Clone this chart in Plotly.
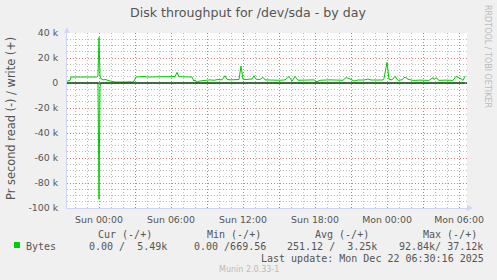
import pandas as pd
import plotly.graph_objects as go

# ---------------- data ----------------
start = pd.Timestamp("2025-12-20 21:20")
step_minutes = 5
n_steps = 400

# write (+) series: sample index (5-min steps from start) and bytes/s
write_idx = [0, 3, 4, 11, 13, 15, 21, 23, 25, 30, 31, 32, 33, 34, 36, 39, 41, 45, 48, 53,
             57, 59, 63, 65, 67, 69, 73, 77, 79, 88, 98, 108, 110, 112, 125, 127, 128, 130,
             132, 135, 139, 143, 147, 151, 155, 158, 160, 163, 167, 170, 172, 174, 176, 179,
             183, 185, 187, 189, 193, 196, 198, 203, 208, 213, 218, 222, 225, 228, 231, 238,
             243, 247, 250, 253, 263, 269, 276, 279, 282, 287, 291, 297, 301, 304, 311, 316,
             317, 320, 322, 325, 328, 331, 335, 338, 341, 346, 353, 362, 366, 367, 369, 372,
             378, 386, 389, 392, 394, 396, 398]
write_val = [1500, 2000, 4800, 4800, 5200, 4800, 4800, 5300, 4800, 4800, 5500, 36500, 5000,
             3500, 2500, 2800, 2000, 1500, 800, 800, 1200, 800, 1000, 670, 1500, 4800, 5000,
             5300, 4800, 5000, 4800, 5200, 8500, 5000, 4800, 1500, 2500, 700, 1500, 2000, 2200,
             2500, 2200, 2800, 2500, 5800, 3000, 2500, 2800, 3200, 2800, 13600, 3000, 2800,
             3000, 3200, 5800, 3000, 2800, 4600, 2500, 2200, 2500, 2200, 2500, 5200, 1500,
             5200, 2200, 2500, 2200, 2500, 1000, 2200, 2500, 2200, 2200, 4300, 3600, 1600,
             2400, 2400, 3200, 2400, 2600, 2400, 3700, 16500, 3000, 2500, 5300, 2100, 2600,
             4800, 3000, 2100, 2300, 2100, 4300, 2800, 4300, 2100, 2300, 2100, 5300, 4300,
             3500, 2100, 5490]

# read (-) series
read_idx = [0, 31, 32, 33, 34, 398]
read_val = [0, 0, 93000, 3000, 0, 0]

y_tick_vals = [-100000, -80000, -60000, -40000, -20000, 0, 20000, 40000]
y_tick_text = ["-100 k", "-80 k", "-60 k", "-40 k", "-20 k", "0", "20 k", "40 k"]

legend_headers = ["Cur (-/+)", "Min (-/+)", "Avg (-/+)", "Max (-/+)"]
legend_values = ["0.00 /  5.49k", "0.00 /669.56", "251.12 /  3.25k", "92.84k/ 37.12k"]
series_name = "Bytes"
last_update = "Last update: Mon Dec 22 06:30:16 2025"
title = "Disk throughput for /dev/sda - by day"
y_title = "Pr second read (-) / write (+)"
watermark = "RRDTOOL / TOBI OETIKER"
version = "Munin 2.0.33-1"

# ---------------- derived ----------------
step = pd.Timedelta(minutes=step_minutes)
write_t = [start + i * step for i in write_idx]
read_t = [start + i * step for i in read_idx]
read_neg = [-v for v in read_val]
end = start + n_steps * step

x_ticks = pd.date_range("2025-12-21 00:00", "2025-12-22 06:00", freq="3h")
x_text = [t.strftime("%a %H:%M") if t.hour % 6 == 0 else "" for t in x_ticks]

W, H = 497, 280
L, R, T, B = 67, 30, 33, 72
PW, PH = W - L - R, H - T - B

def px(x):
    return (x - L) / PW

def py(y):
    return (T + PH - y) / PH

GREEN = "#00CC00"
FONT = "#555555"
AXIS = "#CFD6F8"
MAJOR = "rgba(222,79,79,0.6)"
MINOR = "rgba(143,143,143,0.6)"

fig = go.Figure()
fig.add_trace(go.Scatter(x=read_t, y=read_neg, mode="lines",
                         line=dict(color=GREEN, width=1), hoverinfo="skip"))
fig.add_trace(go.Scatter(x=write_t, y=write_val, mode="lines",
                         line=dict(color=GREEN, width=1), hoverinfo="skip"))

fig.update_layout(
    width=W, height=H,
    margin=dict(l=L, r=R, t=T, b=B, pad=0),
    paper_bgcolor="#F0F0F0", plot_bgcolor="#FFFFFF",
    showlegend=False,
    font=dict(family="DejaVu Sans", size=9.4, color=FONT),
)

fig.update_xaxes(
    type="date", range=[start, end],
    tickmode="array", tickvals=list(x_ticks), ticktext=x_text,
    showgrid=True, gridcolor=MAJOR, griddash="1px,2px", gridwidth=1,
    minor=dict(dtick=3600000, showgrid=True, gridcolor=MINOR,
               griddash="1px,2px", gridwidth=1, ticks=""),
    showline=True, linecolor=AXIS, linewidth=1,
    ticks="", zeroline=False, tickfont=dict(size=9.4, color=FONT),
    ticklabelstandoff=3,
)
fig.update_yaxes(
    range=[-100000, 40000],
    tickmode="array", tickvals=y_tick_vals, ticktext=y_tick_text,
    showgrid=True, gridcolor=MAJOR, griddash="1px,2px", gridwidth=1,
    minor=dict(dtick=5000, showgrid=True, gridcolor=MINOR,
               griddash="1px,2px", gridwidth=1, ticks=""),
    showline=True, linecolor=AXIS, linewidth=1,
    ticks="", zeroline=False, tickfont=dict(size=9.4, color=FONT),
    ticklabelstandoff=6,
)

# zero line (drawn above data)
fig.add_shape(type="line", xref="paper", yref="y", x0=0, x1=1, y0=0, y1=0,
              line=dict(color="#000000", width=1), layer="above")
# axis arrows
fig.add_shape(type="path", xref="paper", yref="paper",
              path=f"M {px(64)} {py(33)} L {px(70)} {py(33)} L {px(67)} {py(27)} Z",
              fillcolor=AXIS, line=dict(width=0), layer="above")
fig.add_shape(type="path", xref="paper", yref="paper",
              path=f"M {px(467)} {py(205)} L {px(467)} {py(211)} L {px(473)} {py(208)} Z",
              fillcolor=AXIS, line=dict(width=0), layer="above")

def txt(text, x, y, size, color=FONT, family="DejaVu Sans", xanchor="left", angle=0):
    fig.add_annotation(text=text, x=px(x), y=py(y), xref="paper", yref="paper",
                       showarrow=False, xanchor=xanchor, yanchor="middle",
                       textangle=angle, borderpad=0, borderwidth=0,
                       font=dict(size=size, color=color, family=family))

txt(title, 248, 13, 12.6, xanchor="center")
txt(y_title, 11, 119, 11.4, xanchor="center", angle=-90)
txt(watermark, 488, 56, 8, color="#BBBBBB", xanchor="center", angle=90)

MONO = "DejaVu Sans Mono"
for h, xs in zip(legend_headers, [98, 207, 315, 422.5]):
    txt(h, xs, 234, 10, family=MONO)
txt(series_name, 26, 246, 10, family=MONO)
for v, xs in zip(legend_values, [89, 194, 287, 398.5]):
    txt(v, xs, 246, 10, family=MONO)
txt(last_update, 260.5, 258, 10, family=MONO)
txt(version, 248.5, 269.5, 8, color="#BBBBBB", xanchor="center")

fig.add_shape(type="rect", xref="paper", yref="paper",
              x0=px(14), x1=px(20), y0=py(248), y1=py(242),
              fillcolor=GREEN, line=dict(width=0))

fig.write_html("out.html")
